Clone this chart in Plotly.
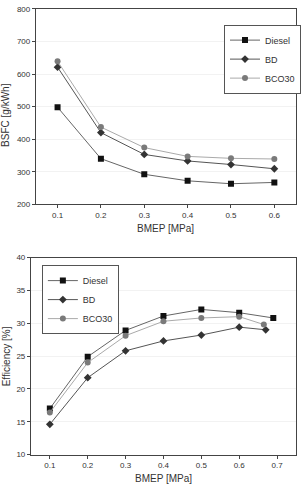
import plotly.graph_objects as go

bmep_top = [0.1, 0.2, 0.3, 0.4, 0.5, 0.6]
bsfc_diesel = [498, 340, 292, 272, 263, 267]
bsfc_bd = [621, 420, 353, 333, 322, 309]
bsfc_bco30 = [639, 437, 374, 347, 341, 339]

bmep_diesel = [0.1, 0.2, 0.3, 0.4, 0.5, 0.6, 0.69]
eff_diesel = [17.0, 24.9, 28.9, 31.1, 32.1, 31.6, 30.8]
bmep_bd = [0.1, 0.2, 0.3, 0.4, 0.5, 0.6, 0.67]
eff_bd = [14.6, 21.7, 25.8, 27.3, 28.2, 29.4, 29.0]
bmep_bco30 = [0.1, 0.2, 0.3, 0.4, 0.5, 0.6, 0.665]
eff_bco30 = [16.4, 24.0, 28.1, 30.3, 30.8, 31.0, 29.8]

series_names = ["Diesel", "BD", "BCO30"]
marker_colors = ["#111111", "#333333", "#7a7a7a"]
line_colors = ["#666666", "#555555", "#aaaaaa"]
symbols = ["square", "diamond", "circle"]

fig = go.Figure()
top = [(bmep_top, bsfc_diesel), (bmep_top, bsfc_bd), (bmep_top, bsfc_bco30)]
bot = [(bmep_diesel, eff_diesel), (bmep_bd, eff_bd), (bmep_bco30, eff_bco30)]
for i, (x, y) in enumerate(top):
    fig.add_trace(go.Scatter(x=x, y=y, name=series_names[i], mode="lines+markers",
                             xaxis="x", yaxis="y", legend="legend",
                             line=dict(color=line_colors[i], width=1),
                             marker=dict(symbol=symbols[i], size=6, color=marker_colors[i])))
for i, (x, y) in enumerate(bot):
    fig.add_trace(go.Scatter(x=x, y=y, name=series_names[i], mode="lines+markers",
                             xaxis="x2", yaxis="y2", legend="legend2",
                             line=dict(color=line_colors[i], width=1),
                             marker=dict(symbol=symbols[i], size=6, color=marker_colors[i])))

H, W = 489, 301
axfont = dict(family="Liberation Sans, Arial, sans-serif", size=8, color="#333333")
common = dict(showline=True, linecolor="#444444", linewidth=1, mirror=True,
              ticks="outside", ticklen=3, tickcolor="#444444", tickfont=axfont,
              zeroline=False)
legfont = dict(size=9, color="#333333", family="Liberation Sans, Arial, sans-serif")

fig.update_layout(
    width=W, height=H, margin=dict(l=0, r=0, t=0, b=0),
    paper_bgcolor="white", plot_bgcolor="white",
    font=dict(family="Liberation Sans, Arial, sans-serif", color="#333333"),
    xaxis=dict(domain=[36 / W, 297 / W], range=[0.05, 0.65], anchor="y",
               tickvals=[0.1, 0.2, 0.3, 0.4, 0.5, 0.6], showgrid=False, **common),
    yaxis=dict(domain=[1 - 204 / H, 1 - 5 / H], range=[200, 800], anchor="x",
               tickvals=[200, 300, 400, 500, 600, 700, 800], showgrid=True,
               gridcolor="#f2f2f2", **common),
    xaxis2=dict(domain=[31 / W, 297 / W], range=[0.05, 0.75], anchor="y2",
                tickvals=[0.1, 0.2, 0.3, 0.4, 0.5, 0.6, 0.7], showgrid=False, **common),
    yaxis2=dict(domain=[1 - 459 / H, 1 - 258.3 / H], range=[10, 40], anchor="x2",
                tickvals=[10, 15, 20, 25, 30, 35, 40], showgrid=True,
                gridcolor="#f2f2f2", **common),
    legend=dict(x=225 / W, y=1 - 21 / H, xanchor="left", yanchor="top",
                bordercolor="#555555", borderwidth=1, bgcolor="white",
                font=legfont, tracegroupgap=0, itemwidth=30),
    legend2=dict(x=42 / W, y=1 - 266 / H, xanchor="left", yanchor="top",
                 bordercolor="#555555", borderwidth=1, bgcolor="white",
                 font=legfont, tracegroupgap=0, itemwidth=30),
    showlegend=True,
)

tfont = dict(size=10, color="#333333")
fig.add_annotation(text="BMEP [MPa]", x=166 / W, y=1 - 229 / H, xref="paper", yref="paper",
                   xanchor="center", yanchor="middle", showarrow=False, font=tfont)
fig.add_annotation(text="BMEP [MPa]", x=164 / W, y=1 - 483 / H, xref="paper", yref="paper",
                   xanchor="center", yanchor="middle", showarrow=False, font=tfont)
fig.add_annotation(text="BSFC [g/kWh]", x=6 / W, y=1 - 113 / H, xref="paper", yref="paper",
                   xanchor="center", yanchor="middle", showarrow=False, textangle=-90, font=tfont)
fig.add_annotation(text="Efficiency [%]", x=6 / W, y=1 - 359 / H, xref="paper", yref="paper",
                   xanchor="center", yanchor="middle", showarrow=False, textangle=-90, font=tfont)

fig.write_html("out.html")
